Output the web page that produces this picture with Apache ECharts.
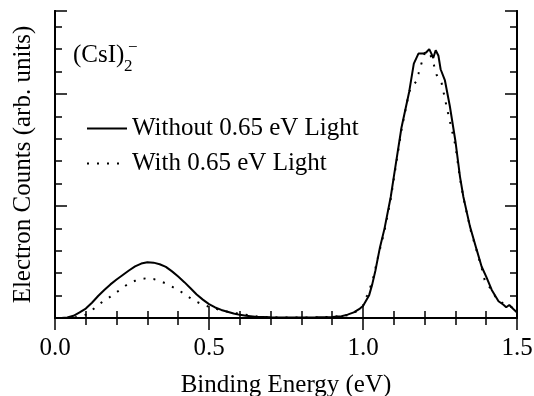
<!DOCTYPE html>
<html>
<head>
<meta charset="utf-8">
<script src="https://cdn.jsdelivr.net/npm/echarts@6/dist/echarts.min.js"></script>
<style>
  html, body { margin: 0; padding: 0; background: #fff; }
  #chart { width: 534px; height: 396px; }
</style>
</head>
<body>
<div id="chart"></div>
<script>
// 数据
const xTicks = ["0.0", "0.5", "1.0", "1.5"];

const withoutE = [0.00, 0.02, 0.04, 0.06, 0.08, 0.10, 0.12, 0.14, 0.16, 0.18, 0.20, 0.22, 0.24, 0.26,
  0.28, 0.30, 0.32, 0.34, 0.36, 0.38, 0.40, 0.42, 0.44, 0.46, 0.48, 0.50, 0.52, 0.54, 0.56, 0.58,
  0.60, 0.62, 0.65, 0.70, 0.75, 0.80, 0.85, 0.90, 0.93, 0.95, 0.97, 0.99, 1.00, 1.02, 1.03, 1.04,
  1.055, 1.07, 1.09, 1.10, 1.125, 1.15, 1.165, 1.18, 1.195, 1.205, 1.215, 1.222, 1.228, 1.236,
  1.245, 1.252, 1.266, 1.282, 1.30, 1.315, 1.326, 1.347, 1.369, 1.385, 1.40, 1.418, 1.44, 1.455,
  1.465, 1.475, 1.488, 1.50];
const withoutCounts = [0, 0, 0.02, 0.1, 0.25, 0.42, 0.68, 0.98, 1.25, 1.5, 1.72, 1.92, 2.12, 2.3,
  2.43, 2.49, 2.47, 2.4, 2.28, 2.08, 1.85, 1.6, 1.33, 1.05, 0.82, 0.62, 0.47, 0.36, 0.28, 0.2,
  0.14, 0.1, 0.06, 0.03, 0.02, 0.02, 0.03, 0.05, 0.08, 0.15, 0.25, 0.42, 0.54, 1.02, 1.5, 2.1,
  3.15, 4.0, 5.4, 6.3, 8.5, 10.1, 11.35, 11.8, 11.8, 11.85, 12.0, 11.8, 11.6, 11.95,
  11.7, 11.1, 10.6, 9.45, 7.9, 6.3, 5.4, 4.1, 3.05, 2.3, 1.85, 1.25, 0.75, 0.6,
  0.48, 0.58, 0.4, 0.25];

const withE = [0.00, 0.04, 0.08, 0.10, 0.12, 0.14, 0.16, 0.18, 0.20, 0.22, 0.24, 0.26, 0.28, 0.30,
  0.32, 0.34, 0.36, 0.38, 0.40, 0.42, 0.44, 0.46, 0.48, 0.50, 0.53, 0.56, 0.60, 0.65, 0.70, 0.80,
  0.90, 0.95, 0.98, 1.00, 1.013, 1.03, 1.05, 1.07, 1.09, 1.10, 1.125, 1.15, 1.172, 1.18, 1.19,
  1.20, 1.21, 1.22, 1.23, 1.239, 1.255, 1.272, 1.28, 1.30, 1.315, 1.33, 1.35, 1.37, 1.385, 1.395,
  1.41, 1.43, 1.45, 1.47, 1.49, 1.50];
const withCounts = [0, 0, 0.05, 0.15, 0.35, 0.58, 0.78, 0.95, 1.15, 1.35, 1.55, 1.66, 1.74, 1.78,
  1.74, 1.65, 1.54, 1.4, 1.25, 1.08, 0.88, 0.72, 0.6, 0.5, 0.38, 0.28, 0.18, 0.08, 0.03, 0.02,
  0.05, 0.12, 0.3, 0.55, 1.0, 1.6, 2.8, 3.9, 5.3, 6.2, 8.4, 10.1, 10.55, 10.9, 11.37,
  11.8, 11.9, 11.7, 11.3, 10.85, 10.5, 9.4, 8.9, 7.7, 6.2, 5.1, 3.9, 2.95, 2.25, 1.7,
  1.4, 0.95, 0.7, 0.55, 0.45, 0.35];

const font = "Liberation Serif";
const myChart = echarts.init(document.getElementById("chart"));

const tickStyle = { color: "#000", width: 1.5 };
const lineAxis = { show: true, lineStyle: { color: "#000", width: 2 } };

function xAxisOf(pos, showLabel) {
  return {
    type: "value",
    position: pos,
    min: 0,
    max: 1.5,
    interval: 0.5,
    axisLine: lineAxis,
    axisTick: { inside: true, length: 12, lineStyle: tickStyle },
    minorTick: { show: true, splitNumber: 5, length: 7, lineStyle: tickStyle },
    splitLine: { show: false },
    axisLabel: {
      show: showLabel,
      margin: 18,
      fontFamily: font,
      fontSize: 25,
      color: "#000",
      formatter: (v) => xTicks[Math.round(v / 0.5)],
    },
  };
}

function yAxisOf(pos, interval, len) {
  return {
    type: "value",
    position: pos,
    min: 0,
    max: 13.7,
    interval: interval,
    axisLine: lineAxis,
    axisTick: { inside: true, length: len, lineStyle: tickStyle },
    splitLine: { show: false },
    axisLabel: { show: false },
  };
}

const yLeft = yAxisOf("left", 5, 12);
yLeft.name = "Electron Counts (arb. units)";
yLeft.nameLocation = "middle";
yLeft.nameGap = 19;
yLeft.nameTextStyle = { fontFamily: font, fontSize: 25, color: "#000" };

const xBottom = xAxisOf("bottom", true);
xBottom.name = "Binding Energy (eV)";
xBottom.nameLocation = "middle";
xBottom.nameGap = 55;
xBottom.nameTextStyle = { fontFamily: font, fontSize: 25, color: "#000" };

const option = {
  animation: false,
  backgroundColor: "#fff",
  grid: { left: 55, right: 17, top: 11, bottom: 78, outerBoundsMode: "none" },
  legend: {
    orient: "vertical",
    left: 81,
    top: 111,
    itemWidth: 40,
    itemHeight: 14,
    itemGap: 10,
    itemStyle: { opacity: 0 },
    textStyle: { fontFamily: font, fontSize: 25, color: "#000" },
    data: ["Without 0.65 eV Light", "With 0.65 eV Light"],
  },
  graphic: [
    { type: "text", left: 73, top: 43, style: { text: "(CsI)", font: "25px " + font, fill: "#000" } },
    { type: "text", left: 124, top: 58, style: { text: "2", font: "17px " + font, fill: "#000" } },
    { type: "text", left: 128, top: 39, style: { text: "\u2212", font: "17px " + font, fill: "#000" } },
  ],
  xAxis: [xBottom, xAxisOf("top", false)],
  yAxis: [yLeft, yAxisOf("left", 1, 7), yAxisOf("right", 5, 12), yAxisOf("right", 1, 7)],
  series: [
    {
      name: "Without 0.65 eV Light",
      type: "line",
      symbol: "none",
      itemStyle: { color: "#000" },
      lineStyle: { color: "#000", width: 2 },
      data: withoutE.map((e, i) => [e, withoutCounts[i]]),
    },
    {
      name: "With 0.65 eV Light",
      type: "line",
      symbol: "none",
      itemStyle: { color: "#000" },
      lineStyle: { color: "#000", width: 2, type: [2, 8] },
      data: withE.map((e, i) => [e, withCounts[i]]),
    },
  ],
};
myChart.setOption(option);
</script>
</body>
</html>
